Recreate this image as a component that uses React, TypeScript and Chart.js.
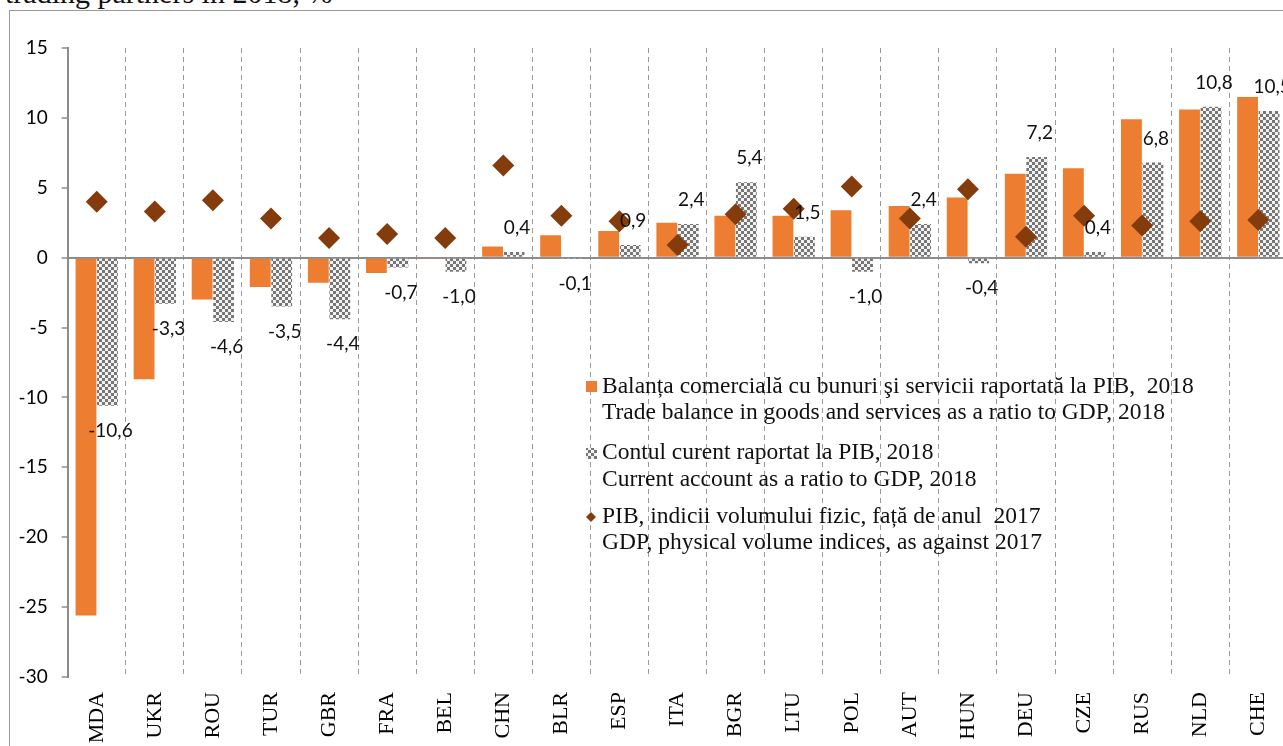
import React, { useEffect, useRef } from 'react';
import { Chart, registerables } from 'chart.js';

Chart.register(...registerables);

const categories = ['MDA', 'UKR', 'ROU', 'TUR', 'GBR', 'FRA', 'BEL', 'CHN', 'BLR', 'ESP', 'ITA', 'BGR', 'LTU', 'POL', 'AUT', 'HUN', 'DEU', 'CZE', 'RUS', 'NLD', 'CHE'];
const tradeBalance = [-25.6, -8.7, -3.0, -2.1, -1.8, -1.1, -0.1, 0.8, 1.6, 1.9, 2.5, 3.0, 3.0, 3.4, 3.7, 4.3, 6.0, 6.4, 9.9, 10.6, 11.5];
const currentAccount = [-10.6, -3.3, -4.6, -3.5, -4.4, -0.7, -1.0, 0.4, -0.1, 0.9, 2.4, 5.4, 1.5, -1.0, 2.4, -0.4, 7.2, 0.4, 6.8, 10.8, 10.5];
const gdpIndex = [4.0, 3.3, 4.1, 2.8, 1.4, 1.7, 1.4, 6.6, 3.0, 2.6, 0.9, 3.1, 3.5, 5.1, 2.8, 4.9, 1.5, 3.0, 2.3, 2.6, 2.7];
const yMin = -30;
const yMax = 15;
const yStep = 5;
const titleText = 'trading partners in 2018, %';
const legendTrade = ['Balanța comercială cu bunuri şi servicii raportată la PIB,  2018', 'Trade balance in goods and services as a ratio to GDP, 2018'];
const legendCurrent = ['Contul curent raportat la PIB, 2018', 'Current account as a ratio to GDP, 2018'];
const legendGdp = ['PIB, indicii volumului fizic, față de anul  2017', 'GDP, physical volume indices, as against 2017'];

const ORANGE = '#ED7D31';
const BROWN = '#843C0C';
const AXIS_GREY = '#8c8c8c';

function fmt(v: number) {
  return v.toFixed(1).replace('.', ',');
}

export default function App() {
  const ref = useRef<HTMLCanvasElement>(null);

  useEffect(() => {
    const canvas = ref.current!;
    const ctx0 = canvas.getContext('2d')!;
    const pc = document.createElement('canvas');
    pc.width = 6;
    pc.height = 6;
    const p = pc.getContext('2d')!;
    p.fillStyle = '#f2f2f2';
    p.fillRect(0, 0, 6, 6);
    p.fillStyle = '#767676';
    p.fillRect(0, 0, 3, 3);
    p.fillRect(3, 3, 3, 3);
    const pattern = ctx0.createPattern(pc, 'repeat')!;

    const valueLabels = {
      id: 'valueLabels',
      afterDatasetsDraw(chart: any) {
        const ctx = chart.ctx;
        const meta = chart.getDatasetMeta(1);
        ctx.save();
        ctx.font = '19px Lato';
        ctx.fillStyle = '#111';
        ctx.textAlign = 'center';
        ctx.textBaseline = 'middle';
        meta.data.forEach((bar: any, i: number) => {
          const v = currentAccount[i];
          const { x, y } = bar.getProps(['x', 'y'], true);
          ctx.fillText(fmt(v), x + 3, y + (v < 0 ? 25 : -24));
        });
        ctx.restore();
      },
    };

    const customLegend = {
      id: 'customLegend',
      afterDraw(chart: any) {
        const ctx = chart.ctx;
        ctx.save();
        ctx.font = '23.5px "Liberation Serif"';
        ctx.textAlign = 'left';
        ctx.textBaseline = 'middle';
        const tx = 602;
        const mx = 586;
        ctx.fillStyle = ORANGE;
        ctx.fillRect(mx, 381, 11, 11);
        ctx.fillStyle = '#111';
        ctx.fillText(legendTrade[0], tx, 387);
        ctx.fillText(legendTrade[1], tx, 413);
        ctx.fillStyle = pattern;
        ctx.fillRect(mx, 448, 11, 11);
        ctx.fillStyle = '#111';
        ctx.fillText(legendCurrent[0], tx, 453);
        ctx.fillText(legendCurrent[1], tx, 480);
        ctx.fillStyle = BROWN;
        ctx.beginPath();
        ctx.moveTo(591, 512);
        ctx.lineTo(596, 517);
        ctx.lineTo(591, 522);
        ctx.lineTo(586, 517);
        ctx.closePath();
        ctx.fill();
        ctx.fillStyle = '#111';
        ctx.fillText(legendGdp[0], tx, 517);
        ctx.fillText(legendGdp[1], tx, 543);
        ctx.restore();
      },
    };

    const chart = new Chart(canvas, {
      type: 'bar',
      data: {
        labels: categories,
        datasets: [
          {
            type: 'bar',
            label: legendTrade[1],
            data: tradeBalance,
            backgroundColor: ORANGE,
            categoryPercentage: 0.74,
            barPercentage: 0.97,
            order: 1,
          },
          {
            type: 'bar',
            label: legendCurrent[1],
            data: currentAccount,
            backgroundColor: pattern as any,
            categoryPercentage: 0.74,
            barPercentage: 0.97,
            order: 2,
          },
          {
            type: 'line',
            label: legendGdp[1],
            data: gdpIndex,
            showLine: false,
            pointStyle: 'rectRot',
            pointRadius: 11,
            pointBackgroundColor: BROWN,
            pointBorderColor: BROWN,
            pointBorderWidth: 0,
            order: 0,
          } as any,
        ],
      },
      options: {
        responsive: false,
        animation: false,
        layout: { padding: { top: 48, right: 7, left: 0, bottom: 0 } },
        plugins: {
          legend: { display: false },
          tooltip: { enabled: false },
        },
        scales: {
          x: {
            grid: { offset: true, color: '#9a9a9a', lineWidth: 1, drawTicks: false },
            border: { display: false, dash: [5, 4] },
            ticks: {
              minRotation: 90,
              maxRotation: 90,
              autoSkip: false,
              padding: 15,
              color: '#000',
              font: { family: '"Liberation Serif"', size: 22 },
            },
            afterFit: (s: any) => {
              s.height = 69;
            },
          },
          y: {
            min: yMin,
            max: yMax,
            ticks: {
              stepSize: yStep,
              padding: 14,
              color: '#000',
              font: { family: 'Lato', size: 19 },
            },
            grid: {
              color: (c: any) => (c.tick && c.tick.value === 0 ? AXIS_GREY : 'rgba(0,0,0,0)'),
              lineWidth: 2,
              tickColor: AXIS_GREY,
              tickLength: 6,
              tickWidth: 1.5,
            },
            border: { display: true, color: AXIS_GREY, width: 2 },
            afterFit: (s: any) => {
              s.width = 67.7;
            },
          },
        },
      },
      plugins: [valueLabels, customLegend],
    });
    return () => chart.destroy();
  }, []);

  return (
    <div style={{ position: 'fixed', left: 0, top: 0, width: 1283, height: 746, overflow: 'hidden', background: '#fff' }}>
      <div
        style={{
          position: 'absolute',
          left: 5,
          top: -22,
          fontFamily: '"Liberation Serif", serif',
          fontSize: 30,
          lineHeight: '30px',
          whiteSpace: 'nowrap',
          color: '#111',
        }}
      >
        {titleText}
      </div>
      <div
        style={{
          position: 'absolute',
          left: 9,
          top: 10,
          width: 1400,
          height: 900,
          borderLeft: '1.5px solid #999',
          borderTop: '1.5px solid #999',
          background: '#fff',
        }}
      />
      <canvas ref={ref} width={1300} height={746} style={{ position: 'absolute', left: 0, top: 0, display: 'block' }} />
    </div>
  );
}
